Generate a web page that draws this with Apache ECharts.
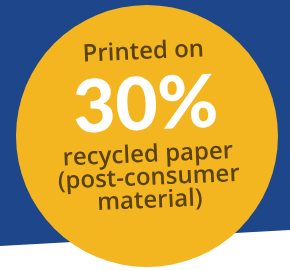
<!DOCTYPE html>
<html>
<head>
<meta charset="utf-8">
<script src="https://cdn.jsdelivr.net/npm/echarts@6/dist/echarts.min.js"></script>
<style>
  html, body { margin: 0; padding: 0; background: #ffffff; }
  #chart { width: 290px; height: 271px; }
</style>
</head>
<body>
<div id="chart"></div>
<script>
// values
const recycledShare = [30];
const headLine = ['Printed on'];
const tailLines = ['recycled paper', '(post-consumer', 'material)'];

const blue = '#1d468b';
const yellow = '#f3b621';
const brown = '#5a4200';
const cx = 147, cy = 136;
const tilt = 2.5 * Math.PI / 180;

const chart = echarts.init(document.getElementById('chart'));

const textStyle = (txt, y, size, color, weight, family) => ({
  type: 'text',
  z: 100,
  x: cx,
  y: y,
  style: {
    text: txt,
    fill: color,
    fontSize: size,
    fontWeight: weight,
    fontFamily: family,
    align: 'center',
    verticalAlign: 'middle'
  }
});

chart.setOption({
  animation: false,
  graphic: [
    {
      type: 'polygon',
      z: -10,
      shape: { points: [[0, 0], [290, 0], [290, 230], [0, 246]] },
      style: { fill: blue }
    },
    {
      type: 'group',
      z: 100,
      originX: cx,
      originY: cy,
      rotation: tilt,
      children: [
        textStyle(headLine[0], 52, 24, brown, 600, 'Open Sans'),
        textStyle(recycledShare[0] + '%', 106, 73, '#ffffff', 900, 'Lato'),
        textStyle(tailLines[0], 155, 24, brown, 600, 'Open Sans'),
        textStyle(tailLines[1], 178, 24, brown, 600, 'Open Sans'),
        textStyle(tailLines[2], 201, 24, brown, 600, 'Open Sans')
      ]
    }
  ],
  series: [
    {
      type: 'pie',
      z: 1,
      center: [cx, cy],
      radius: [0, 131],
      silent: true,
      label: { show: false },
      labelLine: { show: false },
      itemStyle: { color: yellow },
      data: [{ name: 'recycled', value: recycledShare[0] }]
    }
  ]
});
</script>
</body>
</html>
